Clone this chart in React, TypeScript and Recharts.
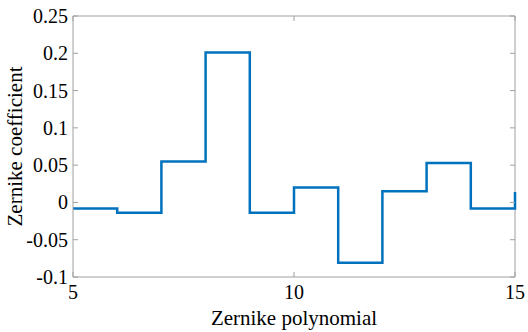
import React from 'react';
import { LineChart, Line, XAxis, YAxis, ReferenceLine } from 'recharts';

const polyIndex = [5, 6, 7, 8, 9, 10, 11, 12, 13, 14, 15];
const coefficients = [-0.008, -0.014, 0.055, 0.201, -0.014, 0.02, -0.081, 0.015, 0.053, -0.008, 0.014];
const xTicks = [5, 10, 15];
const yTicks = [-0.1, -0.05, 0, 0.05, 0.1, 0.15, 0.2, 0.25];

const data = polyIndex.map((n, i) => ({ n, c: coefficients[i] }));

const W = 528;
const H = 332;
const M = { top: 16, right: 13, left: 0, bottom: 0 };
const Y_AXIS_W = 73;
const X_AXIS_H = 55;
const PLOT_W = W - M.right - Y_AXIS_W;
const PLOT_H = H - M.top - X_AXIS_H;

const axisColor = '#a0a0a0';
const font = "'Liberation Serif', 'DejaVu Serif', serif";

const YTick = (props: any) => {
  const { x, y, payload } = props;
  return (
    <g>
      <line x1={x} y1={y} x2={x + 5} y2={y} stroke={axisColor} />
      <line x1={x + PLOT_W} y1={y} x2={x + PLOT_W - 5} y2={y} stroke={axisColor} />
      <text className="serif" x={x - 5} y={y} textAnchor="end" dominantBaseline="central" fontSize={20} fill="#000">
        {payload.value}
      </text>
    </g>
  );
};

const XTick = (props: any) => {
  const { x, y, payload } = props;
  return (
    <g>
      <line x1={x} y1={y} x2={x} y2={y - 5} stroke={axisColor} />
      <line x1={x} y1={y - PLOT_H} x2={x} y2={y - PLOT_H + 5} stroke={axisColor} />
      <text className="serif" x={x} y={y + 15} textAnchor="middle" dominantBaseline="central" fontSize={20} fill="#000">
        {payload.value}
      </text>
    </g>
  );
};

export default function App() {
  return (
    <div style={{ position: 'absolute', left: 0, top: 0, background: '#fff' }}>
      <style>{`.serif, svg text { font-family: ${font} !important; }`}</style>
      <LineChart width={W} height={H} data={data} margin={M}>
        <XAxis
          dataKey="n"
          type="number"
          domain={[5, 15]}
          ticks={xTicks}
          height={X_AXIS_H}
          stroke={axisColor}
          tickLine={false}
          tickSize={0}
          tickMargin={0}
          tick={<XTick />}
          interval={0}
          label={{
            content: () => (
              <text
                className="serif"
                x={Y_AXIS_W + PLOT_W / 2}
                y={318}
                textAnchor="middle"
                dominantBaseline="central"
                fontSize={21}
                fill="#000"
              >
                Zernike polynomial
              </text>
            ),
          }}
        />
        <YAxis
          type="number"
          domain={[-0.1, 0.25]}
          ticks={yTicks}
          width={Y_AXIS_W}
          stroke={axisColor}
          tickLine={false}
          tickSize={0}
          tickMargin={0}
          tick={<YTick />}
          interval={0}
          label={{
            content: () => (
              <text
                className="serif"
                x={15}
                y={M.top + PLOT_H / 2}
                transform={`rotate(-90 15 ${M.top + PLOT_H / 2})`}
                textAnchor="middle"
                dominantBaseline="central"
                fontSize={21}
                fill="#000"
              >
                Zernike coefficient
              </text>
            ),
          }}
        />
        <ReferenceLine y={0.25} stroke={axisColor} />
        <ReferenceLine x={15} stroke={axisColor} />
        <Line
          type="stepAfter"
          dataKey="c"
          stroke="#0072BD"
          strokeWidth={2.5}
          dot={false}
          isAnimationActive={false}
        />
      </LineChart>
    </div>
  );
}
